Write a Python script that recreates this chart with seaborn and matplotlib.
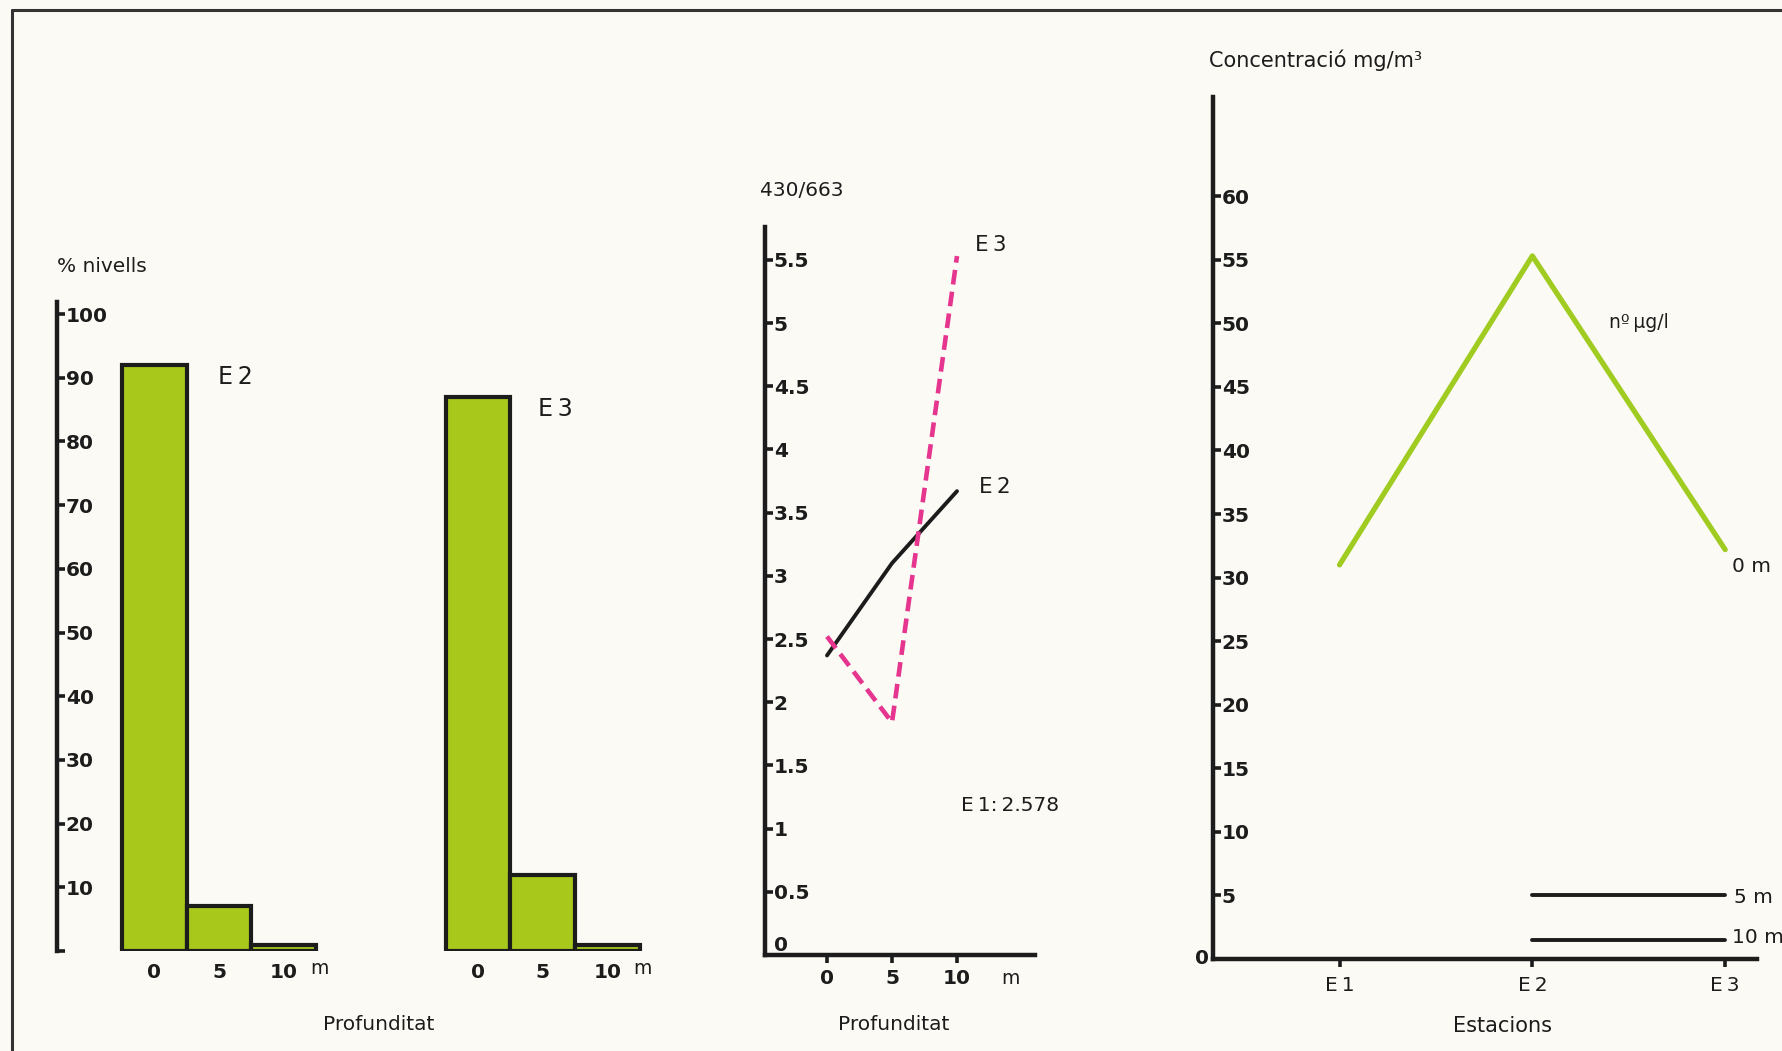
import numpy as np
import pandas as pd
import matplotlib
matplotlib.use("Agg")
import matplotlib.pyplot as plt
import seaborn as sns
from matplotlib.lines import Line2D

# ---------------- data ----------------
depth_labels = ["0", "5", "10"]
e2_pct = [92, 7, 1]
e3_pct = [87, 12, 1]
pct_ticks = list(range(0, 101, 10))

ratio_depth = [0, 5, 10]
ratio_e2 = [2.37, 3.10, 3.67]
ratio_e3 = [2.52, 1.84, 5.53]
e1_ratio = "2.578"
ratio_ticks = [0, 0.5, 1, 1.5, 2, 2.5, 3, 3.5, 4, 4.5, 5, 5.5]
ratio_tick_labels = ["0", "0.5", "1", "1.5", "2", "2.5", "3", "3.5", "4", "4.5", "5", "5.5"]

stations = ["E1", "E2", "E3"]
conc_0m = [31.0, 55.3, 32.2]
conc_5m = [np.nan, 5.0, 5.0]
conc_10m = [np.nan, 1.5, 1.5]
conc_ticks = list(range(5, 61, 5))

# ---------------- style ----------------
sns.set_style("ticks")
FONT = ["DejaVu Sans"]
plt.rcParams["font.family"] = FONT
BG = "#fbfaf4"
BAR_GREEN = "#a8c81c"
LINE_GREEN = "#a0cc22"
PINK = "#e6358f"
INK = "#1c1c1c"
plt.rcParams["axes.edgecolor"] = INK
plt.rcParams["xtick.color"] = INK
plt.rcParams["ytick.color"] = INK
plt.rcParams["text.color"] = INK

W, H = 1783, 1051
fig = plt.figure(figsize=(W / 100, H / 100), dpi=100, facecolor=BG)

TICK_SIZE = 14.5
TEXT_SIZE = 14.5


def frac(l, t, r, b):
    return [l / W, 1 - b / H, (r - l) / W, (b - t) / H]


def style_yaxis(ax, ticks, labels, length=6):
    ax.set_yticks(ticks, labels=labels, fontweight="bold", ha="left")
    ax.tick_params(axis="y", direction="in", length=length, width=2.6,
                   pad=-(length + 0.3), labelsize=TICK_SIZE)


# ---------------- panel 1: bars ----------------
ax1 = fig.add_axes(frac(57, 302, 653, 951))
ax1.set_facecolor("none")
pos_e2 = [1 + i + 0.5 for i in range(len(e2_pct))]
pos_e3 = [6 + i + 0.5 for i in range(len(e3_pct))]
df_bars = pd.DataFrame({"pos": pos_e2 + pos_e3, "pct": e2_pct + e3_pct})
sns.barplot(data=df_bars, x="pos", y="pct", native_scale=True, width=1,
            color=BAR_GREEN, saturation=1, edgecolor=INK, linewidth=3,
            errorbar=None, ax=ax1)
ax1.set_xlim(0, 9.2)
ax1.set_ylim(0, 101.9)
ax1.set_xticks(pos_e2 + pos_e3, labels=depth_labels + depth_labels, fontweight="bold")
ax1.tick_params(axis="x", length=0, pad=9, labelsize=TICK_SIZE)
for lab in ax1.get_xticklabels()[2::3]:
    lab.set_x(lab.get_position()[0])
style_yaxis(ax1, pct_ticks, [""] + [str(v) for v in pct_ticks[1:]])
for s in ["top", "right", "bottom"]:
    ax1.spines[s].set_visible(False)
ax1.spines["left"].set_linewidth(3.2)
ax1.set_xlabel("")
ax1.set_ylabel("")

fig.text(57 / W, 1 - 267 / H, "% nivells", fontsize=TEXT_SIZE, va="center", ha="left")
fig.text(218 / W, 1 - 377 / H, "E\u20092", fontsize=17, va="center", ha="left")
fig.text(538 / W, 1 - 409 / H, "E\u20093", fontsize=17, va="center", ha="left")
fig.text(310 / W, 1 - 968 / H, "m", fontsize=13.5, va="center", ha="left")
fig.text(633 / W, 1 - 968 / H, "m", fontsize=13.5, va="center", ha="left")
fig.text(379 / W, 1 - 1024 / H, "Profunditat", fontsize=TEXT_SIZE, va="center", ha="center")

# ---------------- panel 2: ratio lines ----------------
ax2 = fig.add_axes(frac(765, 227, 1035, 955))
ax2.set_facecolor("none")
sns.lineplot(x=ratio_depth, y=ratio_e2, color=INK, linewidth=2.8, ax=ax2)
sns.lineplot(x=ratio_depth, y=ratio_e3, color=PINK, linewidth=3.3, ax=ax2)
ax2.lines[-1].set_dashes([3.2, 1.6])
ax2.set_xlim(-4.77, 16.0)
ax2.set_ylim(0, 5.76)
ax2.set_xticks(ratio_depth, labels=[str(v) for v in ratio_depth], fontweight="bold")
ax2.tick_params(axis="x", direction="out", length=6, width=2.6, pad=4, labelsize=TICK_SIZE)
style_yaxis(ax2, ratio_ticks, ratio_tick_labels)
ax2.get_yticklabels()[0].set_va("bottom")
for s in ["top", "right"]:
    ax2.spines[s].set_visible(False)
for s in ["left", "bottom"]:
    ax2.spines[s].set_linewidth(3.2)

ax2.text(11.4, 5.62, "E\u20093", fontsize=15.5, va="center", ha="left")
ax2.text(11.7, 3.70, "E\u20092", fontsize=15.5, va="center", ha="left")
ax2.text(10.3, 1.18, "E\u20091:\u2009" + e1_ratio, fontsize=TEXT_SIZE, va="center", ha="left")
fig.text(1010 / W, 1 - 978 / H, "m", fontsize=13.5, va="center", ha="center")
fig.text(760 / W, 1 - 191 / H, "430/663", fontsize=TEXT_SIZE, va="center", ha="left")
fig.text(894 / W, 1 - 1024 / H, "Profunditat", fontsize=TEXT_SIZE, va="center", ha="center")

# ---------------- panel 3: concentration ----------------
ax3 = fig.add_axes(frac(1213, 97, 1757, 959))
ax3.set_facecolor("none")
xs = list(range(len(stations)))
sns.lineplot(x=xs, y=conc_0m, color=LINE_GREEN, linewidth=3.8, ax=ax3)
sns.lineplot(x=xs, y=conc_5m, color=INK, linewidth=2.8, ax=ax3)
sns.lineplot(x=xs, y=conc_10m, color=INK, linewidth=2.8, ax=ax3)
ax3.set_xlim(-0.656, 2.165)
ax3.set_ylim(0, 67.8)
ax3.set_xticks(xs, labels=["E\u2009" + s[1:] for s in stations])
ax3.tick_params(axis="x", direction="out", length=6, width=2.6, pad=6, labelsize=TEXT_SIZE)
style_yaxis(ax3, conc_ticks, [str(v) for v in conc_ticks])
for s in ["top", "right"]:
    ax3.spines[s].set_visible(False)
for s in ["left", "bottom"]:
    ax3.spines[s].set_linewidth(3.2)

ax3.text(-0.675, 0, "0", fontsize=TICK_SIZE, fontweight="bold", va="center", ha="right")
ax3.text(1.40, 50.1, "nº\u2009µg/l", fontsize=13.5, va="center", ha="left")
ax3.text(2.035, 30.9, "0 m", fontsize=TEXT_SIZE, va="center", ha="left", clip_on=False)
ax3.text(2.047, 4.8, "5 m", fontsize=TEXT_SIZE, va="center", ha="left", clip_on=False)
ax3.text(2.035, 1.7, "10 m", fontsize=TEXT_SIZE, va="center", ha="left", clip_on=False)
fig.text(1209 / W, 1 - 60 / H, "Concentració mg/m³", fontsize=15, va="center", ha="left")
fig.text(1503 / W, 1 - 1026 / H, "Estacions", fontsize=15, va="center", ha="center")

# ---------------- frame ----------------
fig.add_artist(Line2D([12 / W, 12 / W], [0, 1 - 10 / H], transform=fig.transFigure,
                      color="#333333", linewidth=2.2))
fig.add_artist(Line2D([12 / W, 1], [1 - 10 / H, 1 - 10 / H], transform=fig.transFigure,
                      color="#333333", linewidth=2.2))

fig.savefig("out.png", dpi=100, facecolor=BG)
